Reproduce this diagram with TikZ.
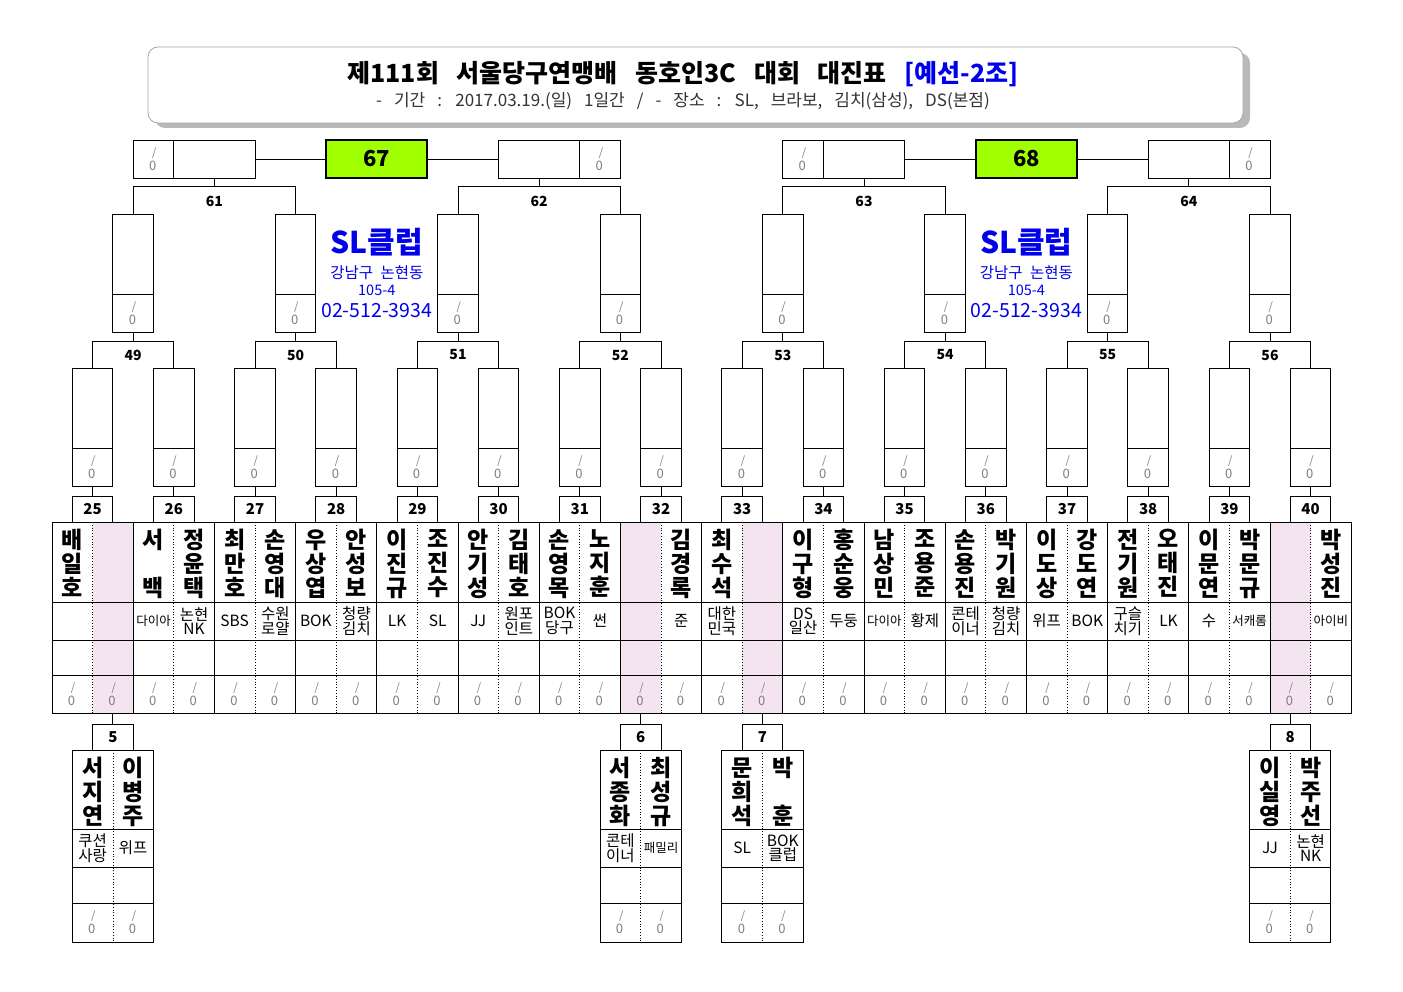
\documentclass[tikz,border=0pt]{standalone}
\usepackage{fontspec}
\setmainfont{Noto Sans CJK KR}
\definecolor{pinkc}{RGB}{243,228,239}
\definecolor{limec}{RGB}{160,255,0}
\definecolor{bluec}{RGB}{0,0,235}
\definecolor{scoreg}{RGB}{125,125,125}
\newcommand\mysmall[1]{{\fontsize{12.5}{13}\selectfont #1}}
\newcommand\scorepair[3]{%
  \node[slashtxt] (#1s) at (#2+0.8,#3-5.5) {/};
  \node[zerotxt] (#1z) at (#2-0.8,#3+6.5) {0};}
\begin{document}
\begin{tikzpicture}[x=1pt,y=-1pt,line width=0.9pt,
  numbox/.style={draw,fill=white,minimum width=40.6pt,minimum height=26pt,inner sep=0pt,font=\fontsize{15}{15}\selectfont\bfseries},
  tallbox/.style={draw,minimum width=40.6pt,minimum height=118pt,inner sep=0pt},
  bigcell/.style={draw,minimum width=81.2pt,minimum height=38pt,inner sep=0pt},
  smallcell/.style={draw,minimum width=40.6pt,minimum height=38pt,inner sep=0pt},
  finalbox/.style={draw,fill=limec,line width=1.8pt,minimum width=101pt,minimum height=38pt,inner sep=0pt,font=\fontsize{22}{22}\selectfont\bfseries},
  lbl/.style={inner sep=0pt,font=\fontsize{14}{14}\selectfont\bfseries},
  slashtxt/.style={inner sep=0pt,text=scoreg,font=\fontsize{11}{11}\selectfont},
  zerotxt/.style={inner sep=0pt,text=scoreg,font=\fontsize{13}{13}\selectfont},
  nametxt/.style={inner sep=0pt,anchor=north,align=center,font=\fontsize{23}{24}\selectfont\bfseries},
  clubtxt/.style={inner sep=0pt,align=center,font=\fontsize{15.5}{14.5}\selectfont},
  dotl/.style={line width=0.8pt,dotted},
  bluetxt/.style={inner sep=0pt,text=bluec}
]
\useasboundingbox (0,0) rectangle (1403,992);
% title box
\fill[gray!55,rounded corners=10pt] (155,53) rectangle (1250,128);
\draw[gray!70,fill=white,rounded corners=10pt,line width=0.8pt] (148,47) rectangle (1243,123);
\node[inner sep=0pt] (title) at (683,74) {\fontsize{25}{25}\selectfont\bfseries 제111회\hspace{12pt} 서울당구연맹배\hspace{12pt} 동호인3C\hspace{12pt} 대회\hspace{12pt} 대진표\hspace{12pt} \textcolor{bluec}{[예선-2조]}};
\node[inner sep=0pt,text=black!80] (subtitle) at (683,101) {\fontsize{17}{17}\selectfont\spaceskip=12pt - 기간 : 2017.03.19.(일) 1일간 / - 장소 : SL, 브라보, 김치(삼성), DS(본점)};

% round of 32 boxes
\foreach \p in {0,...,15}{
  \pgfmathsetmacro\cx{92.6+81.2*\p}
  \pgfmathtruncatemacro\num{25+\p}
  \node[numbox] (n\p) at (\cx,509) {\num};
  \node[tallbox] (a\p) at (\cx,427) {};
  \draw (\cx-20.3,448) -- (\cx+20.3,448);
  \scorepair{as\p}{\cx}{467}
  \draw (a\p.south) -- (n\p.north);
}
% round of 16
\foreach \k in {0,...,7}{
  \pgfmathsetmacro\mx{133.2+162.4*\k}
  \pgfmathtruncatemacro\ii{2*\k}
  \pgfmathtruncatemacro\jj{2*\k+1}
  \pgfmathtruncatemacro\num{49+\k}
  \node[tallbox] (b\k) at (\mx,273) {};
  \draw (\mx-20.3,294) -- (\mx+20.3,294);
  \scorepair{bs\k}{\mx}{313}
  \draw (a\ii.north) -- ++(0,-26) -| (a\jj.north);
  \draw (b\k.south) -- ++(0,10);
  \node[lbl] (bl\k) at (\mx,355) {\num};
}
% quarter level
\foreach \j in {0,...,3}{
  \pgfmathsetmacro\mx{214.4+324.8*\j}
  \pgfmathsetmacro\sx{\mx+60.9*(2*mod(\j,2)-1)}
  \pgfmathtruncatemacro\ii{2*\j}
  \pgfmathtruncatemacro\jj{2*\j+1}
  \pgfmathtruncatemacro\num{61+\j}
  \node[bigcell] (c\j) at (\mx,159) {};
  \node[smallcell] (cs\j) at (\sx,159) {};
  \scorepair{css\j}{\sx}{159}
  \draw (b\ii.north) -- ++(0,-27) -| (b\jj.north);
  \draw (c\j.south) -- ++(0,9);
  \node[lbl] (cl\j) at (\mx,201) {\num};
}
\node[finalbox] (f0) at (376.8,159) {67};
\node[finalbox] (f1) at (1026.4,159) {68};
\draw (c0.east) -- (f0.west);
\draw (f0.east) -- (c1.west);
\draw (c2.east) -- (f1.west);
\draw (f1.east) -- (c3.west);

% club info
\foreach \q/\x in {0/376.8,1/1026.4}{
  \node[bluetxt,font=\fontsize{30}{30}\selectfont\bfseries] (slname\q) at (\x,242) {SL클럽};
  \node[bluetxt,font=\fontsize{15.5}{15.5}\selectfont] (sladdr\q) at (\x,273) {강남구\hspace{4pt} 논현동};
  \node[bluetxt,font=\fontsize{14.5}{14.5}\selectfont] (slno\q) at (\x,290) {105-4};
  \node[bluetxt,font=\fontsize{19.5}{19.5}\selectfont] (sltel\q) at (\x,311) {02-512-3934};
}

% player table
\foreach \c in {1,14,17,30}{
  \fill[pinkc] (52+40.6*\c,522) rectangle ++(40.6,191);
}
\draw (52,522) rectangle (1351,713);
\foreach \yy in {602,640,675}{ \draw (52,\yy) -- (1351,\yy); }
\foreach \k in {1,...,15}{ \draw (52+81.2*\k,522) -- (52+81.2*\k,713); }
\foreach \k in {0,...,15}{ \draw[dotl] (92.6+81.2*\k,522) -- (92.6+81.2*\k,713); }

\foreach \i/\nm/\cl in {
 0/{배\\일\\호}/{},
 1/{}/{},
 2/{서\\\phantom{백}\\백}/{\mysmall{다이아}},
 3/{정\\윤\\택}/{논현\\NK},
 4/{최\\만\\호}/{SBS},
 5/{손\\영\\대}/{수원\\로얄},
 6/{우\\상\\엽}/{BOK},
 7/{안\\성\\보}/{청량\\김치},
 8/{이\\진\\규}/{LK},
 9/{조\\진\\수}/{SL},
 10/{안\\기\\성}/{JJ},
 11/{김\\태\\호}/{원포\\인트},
 12/{손\\영\\목}/{BOK\\당구},
 13/{노\\지\\훈}/{썬},
 14/{}/{},
 15/{김\\경\\록}/{준},
 16/{최\\수\\석}/{대한\\민국},
 17/{}/{},
 18/{이\\구\\형}/{DS\\일산},
 19/{홍\\순\\웅}/{두둥},
 20/{남\\상\\민}/{\mysmall{다이아}},
 21/{조\\용\\준}/{황제},
 22/{손\\용\\진}/{콘테\\이너},
 23/{박\\기\\원}/{청량\\김치},
 24/{이\\도\\상}/{위프},
 25/{강\\도\\연}/{BOK},
 26/{전\\기\\원}/{구슬\\치기},
 27/{오\\태\\진}/{LK},
 28/{이\\문\\연}/{수},
 29/{박\\문\\규}/{\mysmall{서캐롬}},
 30/{}/{},
 31/{박\\성\\진}/{\mysmall{아이비}}}{
  \pgfmathsetmacro\cx{72.3+40.6*\i}
  \node[nametxt] (nm\i) at (\cx,529) {\nm};
  \node[clubtxt] (cl\i) at (\cx,621) {\cl};
  \scorepair{sc\i}{\cx}{694}
}

% preliminary boxes
\foreach \c/\num/\na/\ca/\nb/\cb in {
 1/5/{서\\지\\연}/{쿠션\\사랑}/{이\\병\\주}/{위프},
 14/6/{서\\종\\화}/{콘테\\이너}/{최\\성\\규}/{\mysmall{패밀리}},
 17/7/{문\\희\\석}/{SL}/{박\\\phantom{훈}\\훈}/{BOK\\클럽},
 30/8/{이\\실\\영}/{JJ}/{박\\주\\선}/{논현\\NK}}{
  \pgfmathsetmacro\xo{72.3+40.6*\c}
  \coordinate (tb\num) at (\xo,713);
  \node[numbox] (pn\num) at (\xo,737) {\num};
  \draw (tb\num) -- (pn\num.north);
  \draw (\xo-40.6,750) rectangle (\xo+40.6,942);
  \foreach \yy in {829,867,903}{ \draw (\xo-40.6,\yy) -- (\xo+40.6,\yy); }
  \draw[dotl] (\xo,750) -- (\xo,942);
  \node[nametxt] (pna\num) at (\xo-20.3,757) {\na};
  \node[nametxt] (pnb\num) at (\xo+20.3,757) {\nb};
  \node[clubtxt] (pca\num) at (\xo-20.3,848) {\ca};
  \node[clubtxt] (pcb\num) at (\xo+20.3,848) {\cb};
  \scorepair{psa\num}{\xo-20.3}{922}
  \scorepair{psb\num}{\xo+20.3}{922}
}
\end{tikzpicture}
\end{document}
